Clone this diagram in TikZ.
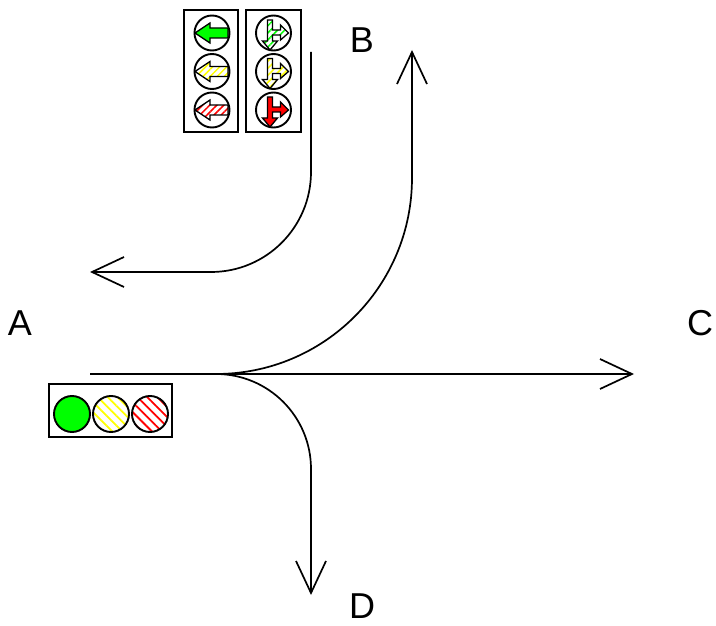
\documentclass[tikz,border=0pt]{standalone}
\usepackage{fontspec}
\setmainfont{Liberation Sans}
\usepackage{tikz}
\usetikzlibrary{calc}
\usetikzlibrary{arrows.meta}
\usetikzlibrary{patterns.meta}

\tikzset{
  route/.style={line width=1.7pt, -{Straight Barb[length=32pt,width=30pt,line width=1.7pt]}},
  housing/.style={draw, line width=1.8pt},
  lamp/.style={draw, line width=1.9pt},
  hatch/.style={pattern={Lines[angle=#1,distance=7pt,line width=1.8pt]}},
  finehatch/.style={pattern={Lines[angle=#1,distance=5pt,line width=1.5pt]}},
  dirlabel/.style={font=\fontsize{36}{40}\selectfont}
}

\begin{document}
\begin{tikzpicture}[x=1pt,y=-1pt]
  \useasboundingbox (0,0) rectangle (716,626);

  \coordinate (a1) at (90,374);
  \coordinate (fork) at (216,374);
  \coordinate (c1) at (634,374);
  \coordinate (b1) at (412,50);
  \coordinate (d1) at (311,595);
  \coordinate (b2) at (311,52);
  \coordinate (a2) at (90,272);

  \node [dirlabel] (labA) at (20,323) {A};
  \node [dirlabel] (labB) at (362,40) {B};
  \node [dirlabel] (labC) at (700,323) {C};
  \node [dirlabel] (labD) at (362,606) {D};

  % routes
  \draw [route] (a1) -- (c1);
  \draw [route, rounded corners=196pt] (fork) -| (b1);
  \draw [route, rounded corners=95pt] (fork) -| (d1);
  \draw [route, rounded corners=100pt] (b2) |- (a2);

  % signal at A
  \draw [housing] (49,384) rectangle (172,437);
  \coordinate (g) at (72,414);
  \coordinate (y) at (111,414);
  \coordinate (r) at (150,414);
  \draw [lamp, fill=green] (g) circle [radius=18];
  \draw [lamp, hatch=-45, pattern color=yellow] (y) circle [radius=18];
  \draw [lamp, hatch=-45, pattern color=red] (r) circle [radius=18];

  % signals at B
  \draw [housing] (184,10) rectangle (238,132);
  \draw [housing] (246,10) rectangle (301,132);
  \coordinate (l1) at (212,33);
  \coordinate (l2) at (212,71.5);
  \coordinate (l3) at (212,110);
  \coordinate (s1) at (273.5,33);
  \coordinate (s2) at (273.5,71.5);
  \coordinate (s3) at (273.5,110);
  \foreach \p in {l1,l2,l3,s1,s2,s3}
    \draw [lamp] (\p) circle [radius=17.5];

  \draw [lamp, line width=1.3pt, fill=green, shift={(l1)}]
    (-17,0) -- (-2,-10) -- (-2,-5) -- (16,-5) -- (16,5) -- (-2,5) -- (-2,10) -- cycle;
  \draw [lamp, line width=1.3pt, finehatch=45, pattern color=yellow, shift={(l2)}]
    (-17,0) -- (-2,-10) -- (-2,-5) -- (16,-5) -- (16,5) -- (-2,5) -- (-2,10) -- cycle;
  \draw [lamp, line width=1.3pt, finehatch=45, pattern color=red, shift={(l3)}]
    (-17,0) -- (-2,-10) -- (-2,-5) -- (16,-5) -- (16,5) -- (-2,5) -- (-2,10) -- cycle;

  \draw [lamp, line width=1.3pt, finehatch=45, pattern color=green, shift={(s1)}]
    (-6,-13) -- (-1,-13) -- (-1,-3) -- (7,-3) -- (7,-8) -- (15,0) -- (7,7) -- (7,2)
    -- (-1,2) -- (-1,8) -- (4,8) -- (-3.5,17) -- (-11,8) -- (-6,8) -- cycle;
  \draw [lamp, line width=1.3pt, finehatch=45, pattern color=yellow, shift={(s2)}]
    (-6,-13) -- (-1,-13) -- (-1,-3) -- (7,-3) -- (7,-8) -- (15,0) -- (7,7) -- (7,2)
    -- (-1,2) -- (-1,8) -- (4,8) -- (-3.5,17) -- (-11,8) -- (-6,8) -- cycle;
  \draw [lamp, line width=1.3pt, fill=red, shift={(s3)}]
    (-6,-13) -- (-1,-13) -- (-1,-3) -- (7,-3) -- (7,-8) -- (15,0) -- (7,7) -- (7,2)
    -- (-1,2) -- (-1,8) -- (4,8) -- (-3.5,17) -- (-11,8) -- (-6,8) -- cycle;
\end{tikzpicture}
\end{document}
